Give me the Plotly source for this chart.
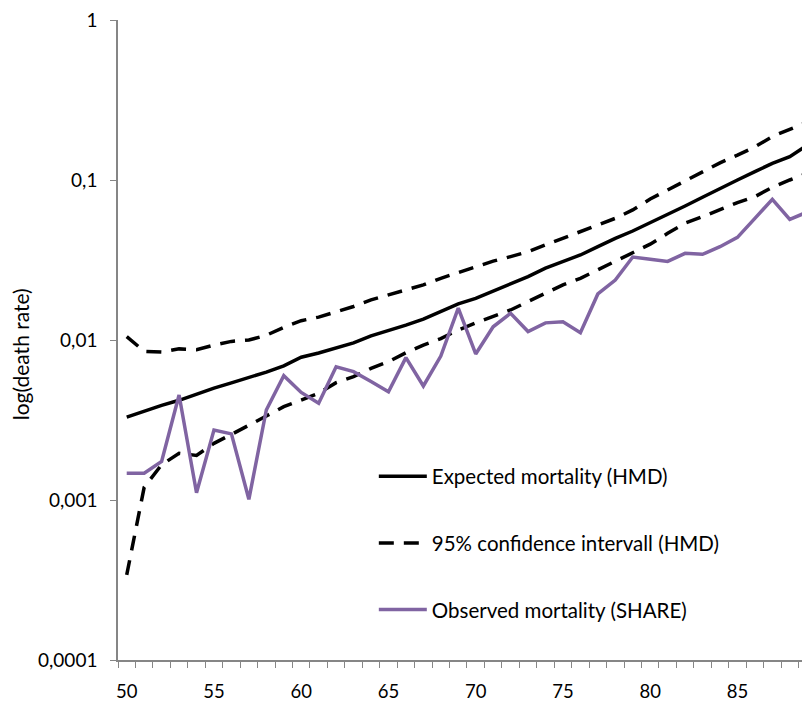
import plotly.graph_objects as go

ages = list(range(50, 90))

expected_hmd = [0.0033, 0.0036, 0.0039, 0.0042, 0.0046, 0.0050, 0.0054, 0.0058, 0.0063, 0.0069,
                0.0078, 0.0083, 0.0089, 0.0096, 0.0106, 0.0114, 0.0124, 0.0135, 0.0150, 0.0168,
                0.0182, 0.0202, 0.0226, 0.0249, 0.0281, 0.0309, 0.0340, 0.0383, 0.0432, 0.0480,
                0.0540, 0.0604, 0.0688, 0.0780, 0.0887, 0.1000, 0.1127, 0.1270, 0.1400, 0.1650]

upper_ci = [0.0105, 0.0085, 0.0084, 0.0088, 0.0087, 0.0093, 0.0098, 0.0100, 0.0107, 0.0120,
            0.0132, 0.0139, 0.0150, 0.0162, 0.0178, 0.0191, 0.0205, 0.0221, 0.0243, 0.0264,
            0.0285, 0.0311, 0.0332, 0.0356, 0.0393, 0.0432, 0.0475, 0.0523, 0.0576, 0.0650,
            0.0760, 0.0866, 0.0990, 0.1127, 0.1280, 0.1430, 0.1610, 0.1870, 0.2070, 0.2300]

lower_ci = [0.00034, 0.00120, 0.00166, 0.00196, 0.00190, 0.00226, 0.00257, 0.00295, 0.00335, 0.00383,
            0.00422, 0.00464, 0.00541, 0.00590, 0.00665, 0.00732, 0.00833, 0.00930, 0.01020, 0.01155,
            0.01280, 0.01410, 0.01540, 0.01740, 0.01960, 0.02210, 0.02430, 0.02740, 0.03090, 0.03480,
            0.03970, 0.04640, 0.05370, 0.05900, 0.06560, 0.07220, 0.07870, 0.09000, 0.10000, 0.11000]

observed_share = [0.00147, 0.00147, 0.00174, 0.00453, 0.00111, 0.00274, 0.00259, 0.00101, 0.00365, 0.00598,
                  0.00470, 0.00402, 0.00680, 0.00634, 0.00550, 0.00475, 0.00776, 0.00516, 0.00794, 0.01580,
                  0.00818, 0.01210, 0.01470, 0.01130, 0.01280, 0.01300, 0.01110, 0.01940, 0.02370, 0.03300,
                  0.03200, 0.03100, 0.03480, 0.03430, 0.03830, 0.04380, 0.05760, 0.07570, 0.05680, 0.06300]

y_tickvals = [0.0001, 0.001, 0.01, 0.1, 1]
y_ticktext = ["0,0001", "0,001", "0,01", "0,1", "1"]
x_tickvals = [50, 55, 60, 65, 70, 75, 80, 85]

FONT = "Lato"
AXIS_GREY = "#868686"
PURPLE = "#8064A2"

fig = go.Figure()
fig.add_trace(go.Scatter(x=ages, y=expected_hmd, mode="lines", name="Expected mortality (HMD)",
                         line=dict(color="black", width=3.5), legendgroup="a"))
fig.add_trace(go.Scatter(x=ages, y=upper_ci, mode="lines", name="95% confidence intervall (HMD)",
                         line=dict(color="black", width=3.5, dash="15px,10px"), legendgroup="b"))
fig.add_trace(go.Scatter(x=ages, y=lower_ci, mode="lines", name="95% confidence intervall (HMD)",
                         line=dict(color="black", width=3.5, dash="15px,10px"), legendgroup="b",
                         showlegend=False))
fig.add_trace(go.Scatter(x=ages, y=observed_share, mode="lines", name="Observed mortality (SHARE)",
                         line=dict(color=PURPLE, width=3.5), legendgroup="c"))

fig.update_layout(
    width=802, height=704,
    margin=dict(l=118, r=0, t=20, b=44),
    paper_bgcolor="white", plot_bgcolor="white",
    font=dict(family=FONT, size=18, color="black"),
    showlegend=True,
    legend=dict(x=0.374, y=0.318, xanchor="left", yanchor="top",
                bgcolor="rgba(0,0,0,0)", borderwidth=0,
                itemwidth=48, tracegroupgap=37,
                font=dict(family=FONT, size=20.5, color="black")),
    xaxis=dict(range=[49.5, 88.7], tickmode="array", tickvals=x_tickvals,
               ticks="", showline=True, linecolor=AXIS_GREY, linewidth=1.5,
               showgrid=False, zeroline=False, ticklabelstandoff=14,
               tickfont=dict(family=FONT, size=18.5, color="black"),
               minor=dict(tick0=49.5, dtick=1, ticks="outside", ticklen=6,
                          tickcolor=AXIS_GREY, tickwidth=1, showgrid=False)),
    yaxis=dict(type="log", range=[-4, 0], tickmode="array", tickvals=y_tickvals,
               ticktext=y_ticktext, ticks="outside", ticklen=6, tickcolor=AXIS_GREY,
               showline=True, linecolor=AXIS_GREY, linewidth=1.5,
               showgrid=False, zeroline=False, ticklabelstandoff=9,
               tickfont=dict(family=FONT, size=19, color="black")),
    annotations=[dict(text="log(death rate)", xref="paper", yref="paper",
                      x=-0.143, y=0.478, xanchor="center", yanchor="middle",
                      textangle=-90, showarrow=False,
                      font=dict(family=FONT, size=21, color="black"))],
)

fig.write_html("out.html")
